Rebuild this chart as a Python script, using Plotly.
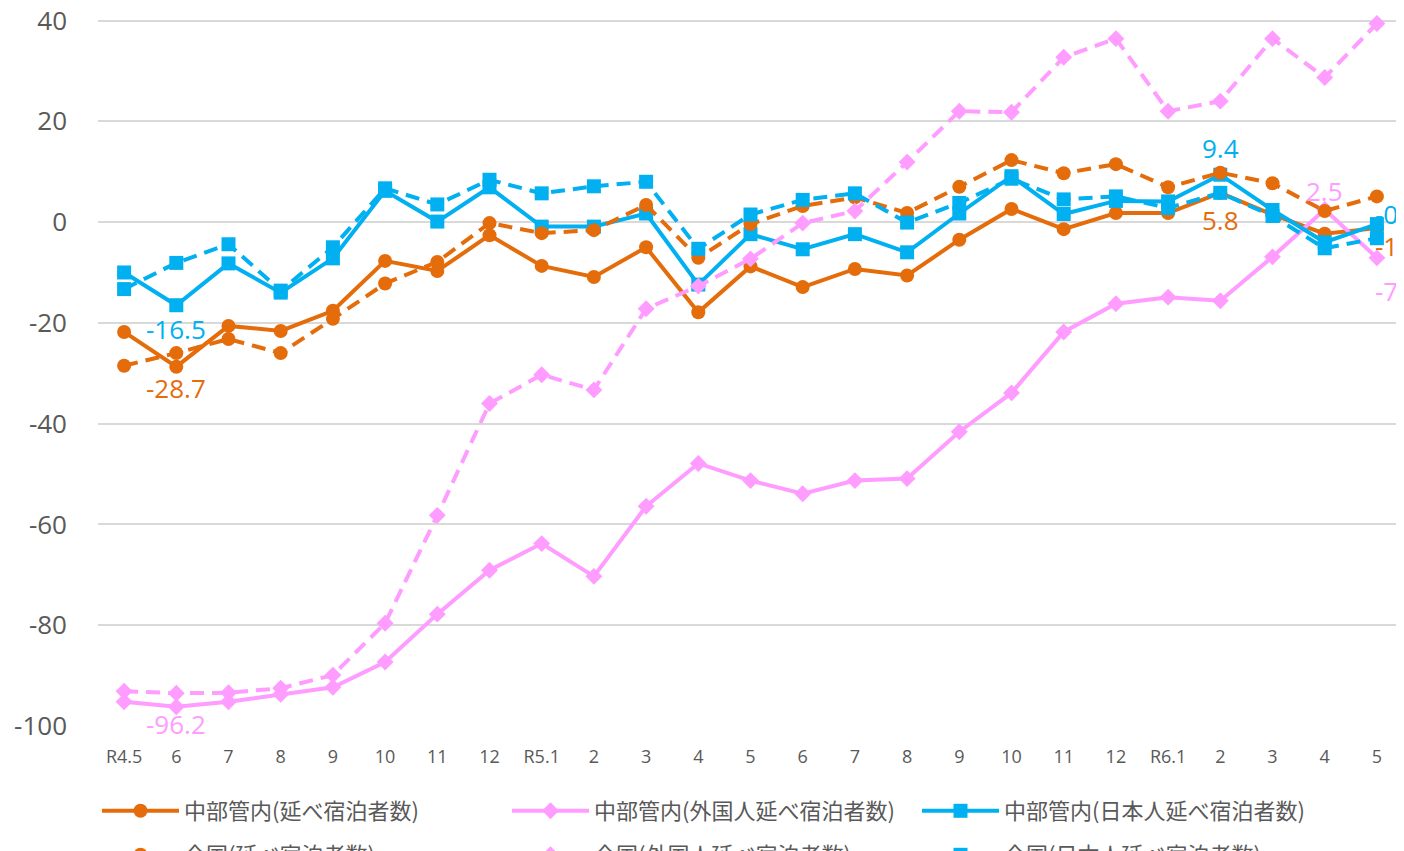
import plotly.graph_objects as go

months = ["R4.5", "6", "7", "8", "9", "10", "11", "12", "R5.1", "2", "3", "4", "5",
          "6", "7", "8", "9", "10", "11", "12", "R6.1", "2", "3", "4", "5"]

chubu_total = [-21.8, -28.7, -20.6, -21.6, -17.6, -7.7, -9.7, -2.6, -8.7, -10.9, -5.0, -17.9, -8.8,
               -12.9, -9.3, -10.6, -3.5, 2.6, -1.4, 1.8, 1.8, 5.8, 1.5, -2.3, -1.2]
chubu_foreign = [-95.2, -96.2, -95.2, -93.7, -92.3, -87.3, -77.8, -69.1, -63.8, -70.3, -56.4, -47.9, -51.3,
                 -53.9, -51.3, -50.9, -41.6, -33.9, -21.8, -16.2, -14.9, -15.6, -6.9, 2.5, -7.1]
chubu_japanese = [-10.0, -16.5, -8.2, -14.0, -7.2, 6.2, 0.1, 6.9, -0.9, -0.9, 1.7, -12.4, -2.4,
                  -5.4, -2.4, -6.0, 1.7, 9.1, 1.6, 4.2, 4.1, 9.4, 2.4, -4.0, -0.4]
zenkoku_total = [-28.5, -26.0, -23.2, -26.0, -19.2, -12.2, -7.9, -0.2, -2.2, -1.6, 3.4, -7.1, -0.4,
                 3.2, 4.9, 1.8, 7.0, 12.3, 9.7, 11.5, 6.9, 9.8, 7.7, 2.2, 5.1]
zenkoku_foreign = [-93.1, -93.5, -93.4, -92.5, -89.9, -79.6, -58.2, -36.0, -30.3, -33.3, -17.2, -12.7, -7.3,
                   -0.2, 2.2, 11.9, 22.0, 21.8, 32.7, 36.4, 22.0, 24.0, 36.4, 28.7, 39.4]
zenkoku_japanese = [-13.3, -8.1, -4.4, -13.6, -5.0, 6.7, 3.5, 8.4, 5.7, 7.1, 8.0, -5.3, 1.5,
                    4.4, 5.7, -0.1, 3.8, 8.6, 4.5, 5.1, 2.8, 5.8, 1.2, -5.2, -3.2]

y_ticks = [-100, -80, -60, -40, -20, 0, 20, 40]
y_ticktext = ["-100", "-80", "-60", "-40", "-20", "0", "20", "40"]

names = ["中部管内(延べ宿泊者数)", "中部管内(外国人延べ宿泊者数)", "中部管内(日本人延べ宿泊者数)",
         "全国(延べ宿泊者数)", "全国(外国人延べ宿泊者数)", "全国(日本人延べ宿泊者数)"]

ORANGE = "#E46C0A"
PINK = "#FF9CFF"
BLUE = "#00B0F0"

x = list(range(len(months)))

series = [
    (chubu_total, names[0], ORANGE, "circle", 14, "solid", "legend"),
    (chubu_foreign, names[1], PINK, "diamond", 13, "solid", "legend"),
    (chubu_japanese, names[2], BLUE, "square", 14, "solid", "legend"),
    (zenkoku_total, names[3], ORANGE, "circle", 14, "14px,8px", "legend2"),
    (zenkoku_foreign, names[4], PINK, "diamond", 13, "14px,8px", "legend2"),
    (zenkoku_japanese, names[5], BLUE, "square", 14, "14px,8px", "legend2"),
]

fig = go.Figure()
for vals, name, color, sym, size, dash, leg in series:
    fig.add_trace(go.Scatter(
        x=x, y=vals, name=name, mode="lines+markers", legend=leg, cliponaxis=False,
        line=dict(color=color, width=4, dash=dash),
        marker=dict(symbol=sym, size=size, color=color),
    ))

label_font = dict(family="Open Sans, Noto Sans CJK JP", size=26)
labels = [
    (chubu_total, 1, ORANGE, -21),
    (chubu_japanese, 1, BLUE, -24),
    (chubu_foreign, 1, PINK, -17),
    (chubu_japanese, 21, BLUE, 27),
    (chubu_total, 21, ORANGE, -27),
    (chubu_foreign, 23, PINK, 18),
]
for vals, i, color, ys in labels:
    fig.add_annotation(x=x[i], y=vals[i], text=f"{vals[i]:.1f}", showarrow=False,
                       yshift=ys, xanchor="center", font=dict(color=color, **label_font))

end_labels = [
    (chubu_japanese, BLUE, 10),
    (chubu_total, ORANGE, -18),
    (chubu_foreign, PINK, -33),
]
last = len(months) - 1
for vals, color, ys in end_labels:
    fig.add_annotation(x=x[last], y=vals[last], text=f"{vals[last]:.1f}", showarrow=False,
                       xshift=-4, yshift=ys, xanchor="left", font=dict(color=color, **label_font))

leg_common = dict(orientation="h", xref="container", yref="container",
                  x=89 / 1404, xanchor="left", yanchor="top",
                  entrywidth=318, entrywidthmode="pixels",
                  font=dict(size=22, color="#595959", family="Noto Sans CJK JP"),
                  tracegroupgap=0, itemwidth=77, bgcolor="rgba(0,0,0,0)")

fig.update_layout(
    width=1404, height=851,
    paper_bgcolor="white", plot_bgcolor="white",
    margin=dict(l=90, r=9, t=11, b=133),
    font=dict(family="Open Sans, Noto Sans CJK JP", color="#595959"),
    showlegend=True,
    legend=dict(y=1 - 782 / 851, **leg_common),
    legend2=dict(y=1 - 826 / 851, **leg_common),
    xaxis=dict(range=[-0.5, len(months) - 0.5], tickvals=x, ticktext=months,
               showgrid=False, zeroline=False, showline=False, ticks="", automargin=False,
               tickfont=dict(size=18, color="#595959"), ticklabelstandoff=18),
    yaxis=dict(range=[-100, 40.3], tickvals=y_ticks, ticktext=y_ticktext,
               showgrid=True, gridcolor="#D9D9D9", gridwidth=2, zeroline=False,
               showline=False, ticks="", automargin=False, ticklabeloverflow="allow",
               tickfont=dict(size=26, color="#595959"), ticklabelstandoff=30),
)

fig.write_html("out.html")
